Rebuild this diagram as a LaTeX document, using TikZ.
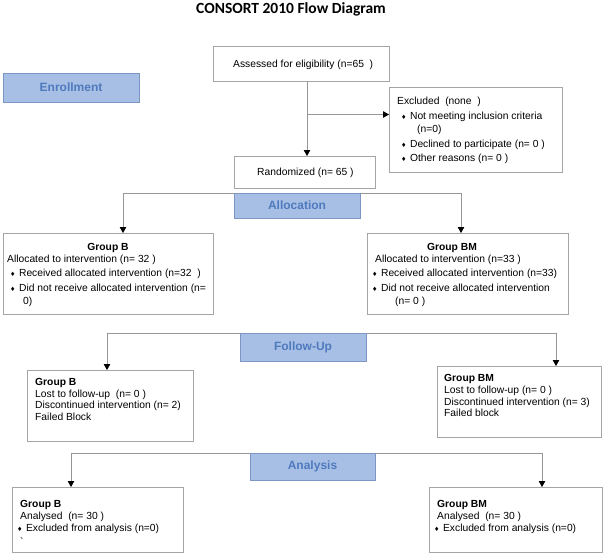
\documentclass[tikz,border=0pt]{standalone}
\usepackage{fontspec}
\setmainfont{Liberation Sans}
\newfontfamily\titlefont{Carlito}
\newfontfamily\symfont{DejaVu Sans}
\usetikzlibrary{arrows.meta,calc}
\definecolor{boxline}{RGB}{165,165,165}
\definecolor{conline}{RGB}{150,150,150}
\definecolor{phasefill}{RGB}{167,191,228}
\definecolor{phaseline}{RGB}{125,150,195}
\definecolor{phasetext}{RGB}{79,122,190}
\newcommand\bul{{\symfont\fontsize{6}{6}\selectfont ♦}\hspace{3.5pt}}
\tikzset{
 box/.style={draw=boxline, line width=0.8pt, fill=white, inner sep=0pt, outer sep=0pt},
 phase/.style={draw=phaseline, line width=0.8pt, fill=phasefill, text=phasetext,
   font=\fontsize{12}{14}\selectfont\bfseries, inner sep=0pt, outer sep=0pt},
 conn/.style={draw=conline, line width=0.8pt},
 arr/.style={conn, -{Triangle[width=6.5pt,length=6pt,color=black]}},
 txt/.style={anchor=base west, inner sep=0pt, font=\fontsize{10.3}{12}\selectfont},
 btxt/.style={anchor=base west, inner sep=0pt, font=\fontsize{10.3}{12}\selectfont\bfseries},
 ctxt/.style={anchor=base, inner sep=0pt, font=\fontsize{10.3}{12}\selectfont\bfseries},
}
\begin{document}
\begin{tikzpicture}[x=1pt,y=-1pt]
\useasboundingbox[fill=white] (0,0) rectangle (605,557);

% title
\node[inner sep=0pt, font=\titlefont\bfseries\fontsize{15.5}{18}\selectfont] (title) at (291,9) {CONSORT 2010 Flow Diagram};

% boxes
\node[box, minimum width=176, minimum height=35] (assess) at (301,64) {};
\node[txt] (assessT) at (233,67.5) {Assessed for eligibility (n=65\ \ )};

\node[box, minimum width=173, minimum height=85] (excl) at (475.5,129.5) {};
\node[txt] (ex1) at (397,104) {Excluded\ \ (none\ \ )};
\node[txt] (ex2) at (401,119) {\bul Not meeting inclusion criteria};
\node[txt] (ex3) at (417,132.5) {(n=0)};
\node[txt] (ex4) at (401,147) {\bul Declined to participate (n= 0 )};
\node[txt] (ex5) at (401,161.5) {\bul Other reasons (n= 0 )};

\node[box, minimum width=141, minimum height=32] (rand) at (304.5,172) {};
\node[txt] (randT) at (257,175.5) {Randomized (n= 65 )};

\node[box, minimum width=210, minimum height=81] (gbA) at (108,273.5) {};
\node[ctxt] (gbA1) at (108,250.5) {Group B};
\node[txt] (gbA2) at (7,262.5) {Allocated to intervention (n= 32 )};
\node[txt] (gbA3) at (10,276.5) {\bul Received allocated intervention (n=32\ \ )};
\node[txt] (gbA4) at (10,291.5) {\bul Did not receive allocated intervention (n=};
\node[txt] (gbA5) at (23,304.5) {0)};

\node[box, minimum width=201, minimum height=81] (gbmA) at (467.5,273.5) {};
\node[ctxt] (gbmA1) at (452,250.5) {Group BM};
\node[txt] (gbmA2) at (375,262.5) {Allocated to intervention (n=33 )};
\node[txt] (gbmA3) at (372,276.5) {\bul Received allocated intervention (n=33)};
\node[txt] (gbmA4) at (372,291.5) {\bul Did not receive allocated intervention};
\node[txt] (gbmA5) at (395,304.5) {(n= 0 )};

\node[box, minimum width=166, minimum height=71] (gbF) at (110,405.5) {};
\node[btxt] (gbF1) at (35,385) {Group B};
\node[txt] (gbF2) at (35,397) {Lost to follow-up\ \ (n= 0 )};
\node[txt] (gbF3) at (35,408.5) {Discontinued intervention (n= 2)};
\node[txt] (gbF4) at (35,420) {Failed Block};

\node[box, minimum width=164, minimum height=71] (gbmF) at (519,401.5) {};
\node[btxt] (gbmF1) at (444,381.5) {Group BM};
\node[txt] (gbmF2) at (444,393.5) {Lost to follow-up (n= 0 )};
\node[txt] (gbmF3) at (444,405) {Discontinued intervention (n= 3)};
\node[txt] (gbmF4) at (444,416.5) {Failed block};

\node[box, minimum width=171, minimum height=65] (gbN) at (97.5,519.5) {};
\node[btxt] (gbN1) at (20,507.5) {Group B};
\node[txt] (gbN2) at (20,519.5) {Analysed\ \ (n= 30 )};
\node[txt] (gbN3) at (17,531.5) {\bul Excluded from analysis (n=0)};
\node[txt] (gbN4) at (20,545) {\textasciigrave};

\node[box, minimum width=173, minimum height=65] (gbmN) at (515.5,519.5) {};
\node[btxt] (gbmN1) at (437,507.5) {Group BM};
\node[txt] (gbmN2) at (437,519.5) {Analysed\ \ (n= 30 )};
\node[txt] (gbmN3) at (434,531.5) {\bul Excluded from analysis (n=0)};

% connectors
\coordinate (vtop) at ($(assess.south)+(6,0)$);
\coordinate (br) at ($(vtop)+(0,33)$);
\draw[arr] (vtop) -- (vtop |- rand.north);
\draw[arr] (br) -- (br -| excl.west);

\coordinate (aL) at (123,193);
\coordinate (aR) at (461,193);
\draw[conn] (aL) -- (aR);
\draw[arr] (aL) -- (aL |- gbA.north);
\draw[arr] (aR) -- (aR |- gbmA.north);

\coordinate (fL) at (107,333);
\coordinate (fR) at (556,333);
\draw[conn] (fL) -- (fR);
\draw[arr] (fL) -- (fL |- gbF.north);
\draw[arr] (fR) -- (fR |- gbmF.north);

\coordinate (nL) at (71,453);
\coordinate (nR) at (542,453);
\draw[conn] (nL) -- (nR);
\draw[arr] (nL) -- (nL |- gbN.north);
\draw[arr] (nR) -- (nR |- gbmN.north);

% phase labels
\node[phase, minimum width=136, minimum height=29] (enrol) at (71,87.5) {Enrollment};
\node[phase, minimum width=126, minimum height=25] (alloc) at (297,205.5) {Allocation};
\node[phase, minimum width=126, minimum height=28] (follow) at (303,347) {Follow-Up};
\node[phase, minimum width=125, minimum height=27] (analysis) at (312.5,466.5) {Analysis};
\end{tikzpicture}
\end{document}
